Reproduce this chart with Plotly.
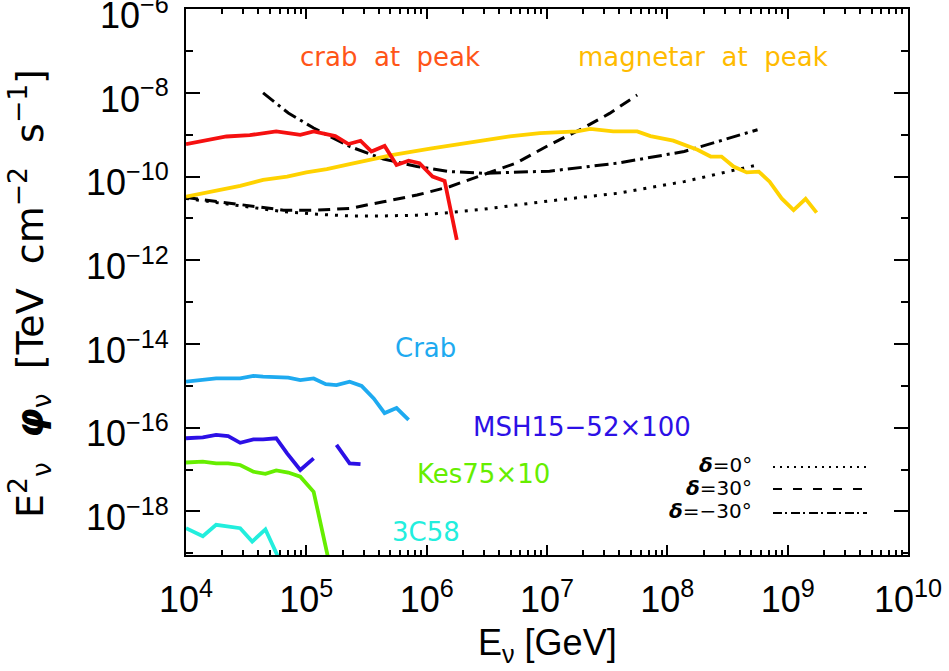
import plotly.graph_objects as go

# ---------------- data (E in GeV, E^2 phi in TeV cm^-2 s^-1) ----------------
crab_peak_E = [1.00e4, 1.30e4, 1.68e4, 2.17e4, 3.39e4, 4.37e4, 5.62e4, 7.08e4, 8.91e4, 1.15e5, 1.38e5,
               1.74e5, 2.24e5, 2.82e5, 3.47e5, 4.47e5, 5.62e5, 7.08e5, 8.71e5, 1.12e6, 1.41e6, 1.78e6]
crab_peak_F = [6.0e-10, 6.9e-10, 8.3e-10, 9.1e-10, 9.8e-10, 1.10e-9, 1.20e-9, 1.10e-9, 1.00e-9, 1.20e-9, 1.05e-9,
               9.3e-10, 6.0e-10, 7.2e-10, 4.0e-10, 5.4e-10, 1.9e-10, 2.4e-10, 2.1e-10, 1.0e-10, 7.9e-11, 3.1e-12]

magnetar_E = [1.00e4, 1.78e4, 2.82e4, 4.37e4, 6.92e4, 1.00e5, 1.48e5, 2.29e5, 3.39e5, 5.25e5, 1.07e6,
              1.78e6, 2.95e6, 4.90e6, 8.71e6, 1.78e7, 2.29e7, 3.55e7, 5.62e7, 7.24e7, 1.12e8, 1.78e8,
              2.29e8, 2.82e8, 3.55e8, 4.57e8, 5.75e8, 7.08e8, 8.91e8, 1.12e9, 1.41e9, 1.74e9]
magnetar_F = [3.31e-11, 4.68e-11, 6.03e-11, 8.32e-11, 1.00e-10, 1.26e-10, 1.51e-10, 2.00e-10, 2.51e-10, 3.31e-10, 4.68e-10,
              5.89e-10, 7.08e-10, 9.12e-10, 1.10e-9, 1.20e-9, 1.38e-9, 1.20e-9, 1.20e-9, 9.33e-10, 7.24e-10, 4.37e-10,
              3.02e-10, 3.02e-10, 1.74e-10, 1.26e-10, 1.32e-10, 7.59e-11, 3.02e-11, 1.58e-11, 2.95e-11, 1.38e-11]

sens_E = [1.0e4, 2.45e4, 6.46e4, 1.23e5, 2.29e5, 4.37e5, 8.32e5, 1.55e6, 2.95e6, 5.50e6, 1.05e7, 3.80e7, 1.38e8, 5.62e8]
sens_dec0_F = [3.02e-11, 2.09e-11, 1.45e-11, 1.26e-11, 1.15e-11, 1.15e-11, 1.20e-11, 1.38e-11, 1.66e-11, 2.09e-11,
               2.63e-11, 3.98e-11, 7.59e-11, 1.91e-10]

sens_dec30_E = [1.0e4, 2.45e4, 6.46e4, 1.23e5, 2.29e5, 4.37e5, 8.32e5, 1.55e6, 2.95e6, 5.50e6, 1.05e7, 2.0e7, 3.31e7, 5.62e7]
sens_dec30_F = [3.16e-11, 2.29e-11, 1.58e-11, 1.58e-11, 1.74e-11, 2.51e-11, 3.63e-11, 5.75e-11, 1.10e-10, 2.09e-10,
                5.75e-10, 1.45e-9, 3.24e-9, 8.91e-9]

sens_decm30_E = [4.37e4, 7.08e4, 1.15e5, 2.29e5, 4.37e5, 8.32e5, 1.55e6, 2.95e6, 1.05e7, 3.80e7, 1.38e8, 5.62e8]
sens_decm30_F = [1.0e-8, 3.31e-9, 1.45e-9, 5.25e-10, 2.63e-10, 1.74e-10, 1.32e-10, 1.20e-10, 1.35e-10, 2.09e-10,
                 3.98e-10, 1.32e-9]

crab_E = [1.00e4, 1.78e4, 2.82e4, 3.63e4, 4.37e4, 5.62e4, 7.08e4, 8.91e4, 1.15e5, 1.45e5, 1.78e5, 2.29e5,
          2.88e5, 3.63e5, 4.47e5, 5.62e5, 7.08e5]
crab_F = [1.26e-15, 1.51e-15, 1.51e-15, 1.74e-15, 1.66e-15, 1.58e-15, 1.58e-15, 1.38e-15, 1.51e-15, 1.10e-15,
          1.05e-15, 1.26e-15, 1.00e-15, 5.01e-16, 2.24e-16, 2.95e-16, 1.55e-16]

msh_E = [1.00e4, 1.38e4, 1.78e4, 2.24e4, 2.82e4, 3.63e4, 4.37e4, 5.62e4, 6.92e4, 8.91e4, 1.15e5, None,
         1.78e5, 2.29e5, 2.82e5]
msh_F = [5.62e-17, 5.89e-17, 6.76e-17, 6.31e-17, 4.37e-17, 5.25e-17, 5.25e-17, 5.62e-17, 2.45e-17, 9.77e-18,
         1.86e-17, None, 3.89e-17, 1.41e-17, 1.35e-17]

kes_E = [1.00e4, 1.38e4, 1.78e4, 2.24e4, 2.82e4, 3.63e4, 4.57e4, 5.62e4, 7.08e4, 8.91e4, 1.15e5, 1.51e5]
kes_F = [1.48e-17, 1.55e-17, 1.41e-17, 1.41e-17, 1.29e-17, 8.91e-18, 7.94e-18, 9.55e-18, 8.51e-18, 6.76e-18,
         2.95e-18, 8.3e-20]

c58_E = [1.00e4, 1.38e4, 1.78e4, 2.82e4, 3.55e4, 4.57e4, 6.31e4]
c58_F = [3.98e-19, 2.57e-19, 4.79e-19, 3.98e-19, 1.91e-19, 3.72e-19, 5.0e-20]

x_tick_vals = [1e4, 1e5, 1e6, 1e7, 1e8, 1e9, 1e10]
x_tick_text = ["10<sup>4</sup>", "10<sup>5</sup>", "10<sup>6</sup>", "10<sup>7</sup>",
               "10<sup>8</sup>", "10<sup>9</sup>", "10<sup>10</sup>"]
y_tick_vals = [1e-18, 1e-16, 1e-14, 1e-12, 1e-10, 1e-8, 1e-6]
y_tick_text = ["10<sup>\u221218</sup>", "10<sup>\u221216</sup>", "10<sup>\u221214</sup>", "10<sup>\u221212</sup>",
               "10<sup>\u221210</sup>", "10<sup>\u22128</sup>", "10<sup>\u22126</sup>"]
y_minor_vals = [1e-19, 1e-17, 1e-15, 1e-13, 1e-11, 1e-9, 1e-7]
x_minor_vals = [m * 10 ** k for k in range(4, 10) for m in range(2, 10)]

# ---------------- figure ----------------
fig = go.Figure()


def add(E, F, color, width, dash="solid"):
    fig.add_trace(go.Scatter(x=E, y=F, mode="lines", connectgaps=False, showlegend=False,
                             line=dict(color=color, width=width, dash=dash)))


add(sens_E, sens_dec0_F, "black", 3, "3px,7px")
add(sens_dec30_E, sens_dec30_F, "black", 3, "12px,7px")
add(sens_decm30_E, sens_decm30_F, "black", 3, "14px,5px,3px,5px")
add(magnetar_E, magnetar_F, "#ffd200", 3.8)
add(crab_peak_E, crab_peak_F, "#f51010", 3.8)
add(crab_E, crab_F, "#1eaaf0", 3.8)
add(msh_E, msh_F, "#2c10e6", 3.8)
add(kes_E, kes_F, "#66ee00", 3.8)
add(c58_E, c58_F, "#22eedd", 3.8)

PL, PR, PT, PB = 186, 908, 9, 555
W, H = PR - PL, PB - PT


def px(x):
    return (x - PL) / W


def py(y):
    return (PB - y) / H


lab_font = "DejaVu Sans"
labels = [
    ("crab\u00a0\u00a0at\u00a0\u00a0peak", 390, 57, "#ff5518", "center"),
    ("magnetar\u00a0\u00a0at\u00a0\u00a0peak", 703, 57, "#ffbb00", "center"),
    ("Crab", 425, 348, "#1eaaf0", "center"),
    ("MSH15\u221252\u00d7100", 582, 427, "#2c10e6", "center"),
    ("Kes75\u00d710", 483, 474, "#66ee00", "center"),
    ("3C58", 426, 532, "#22eedd", "center"),
]
for t, x, y, c, a in labels:
    fig.add_annotation(text=t, x=px(x), y=py(y), xref="paper", yref="paper", showarrow=False,
                       xanchor=a, yanchor="middle", font=dict(family=lab_font, size=26, color=c))

# legend for declinations
leg = [("<b><i>\u03b4</i></b>=0\u00b0", 465, 467, "2px,5px"),
       ("<b><i>\u03b4</i></b>=30\u00b0", 488, 489, "9px,11px"),
       ("<b><i>\u03b4</i></b>=\u221230\u00b0", 511, 513, "9px,3px,2px,4px")]
for t, ty, ly, d in leg:
    fig.add_annotation(text=t, x=px(754), y=py(ty), xref="paper", yref="paper", showarrow=False,
                       xanchor="right", yanchor="middle", font=dict(family=lab_font, size=20, color="black"))
    fig.add_shape(type="line", xref="paper", yref="paper", x0=px(773), x1=px(867), y0=py(ly), y1=py(ly),
                  line=dict(color="black", width=1.8, dash=d))

# axis titles
fig.add_annotation(text="E<sub>\u03bd</sub> [GeV]", x=0.5, y=py(645), xref="paper", yref="paper",
                   showarrow=False, xanchor="center", yanchor="middle",
                   font=dict(family="Liberation Sans", size=36, color="black"))
fig.add_annotation(text="E<sup>2</sup><sub>\u03bd</sub>\u00a0\u00a0<b><i>\u03c6</i></b><sub>\u03bd</sub>\u00a0\u00a0"
                        "[TeV\u00a0\u00a0cm<sup>\u22122</sup>\u00a0\u00a0s<sup>\u22121</sup>]",
                   x=px(30), y=py(294), xref="paper", yref="paper", textangle=-90,
                   showarrow=False, xanchor="center", yanchor="middle",
                   font=dict(family="DejaVu Sans", size=38, color="black"))

tick_font = dict(family="Liberation Sans", size=36, color="black")
fig.update_xaxes(type="log", range=[4, 10], tickmode="array", tickvals=x_tick_vals, ticktext=x_tick_text,
                 ticks="inside", ticklen=10, tickwidth=2, tickcolor="black",
                 showline=True, linewidth=2, linecolor="black", mirror="allticks",
                 showgrid=False, zeroline=False, tickfont=tick_font, ticklabelstandoff=12,
                 ticklabeloverflow="allow",
                 minor=dict(tickmode="array", tickvals=x_minor_vals, ticks="inside", ticklen=5,
                            tickwidth=1.5, tickcolor="black", showgrid=False))
fig.update_yaxes(type="log", range=[-19.04, -5.995], tickmode="array", tickvals=y_tick_vals, ticktext=y_tick_text,
                 ticks="inside", ticklen=14, tickwidth=2, tickcolor="black",
                 showline=True, linewidth=2, linecolor="black", mirror="allticks",
                 showgrid=False, zeroline=False, tickfont=tick_font, ticklabelstandoff=8,
                 ticklabeloverflow="allow", ticklabelshift=6,
                 minor=dict(tickmode="array", tickvals=y_minor_vals, ticks="inside", ticklen=7,
                            tickwidth=2, tickcolor="black", showgrid=False))

fig.update_layout(width=949, height=671, margin=dict(l=PL, r=949 - PR, t=PT, b=671 - PB, autoexpand=False),
                  plot_bgcolor="white", paper_bgcolor="white", showlegend=False)

fig.write_html("out.html")
